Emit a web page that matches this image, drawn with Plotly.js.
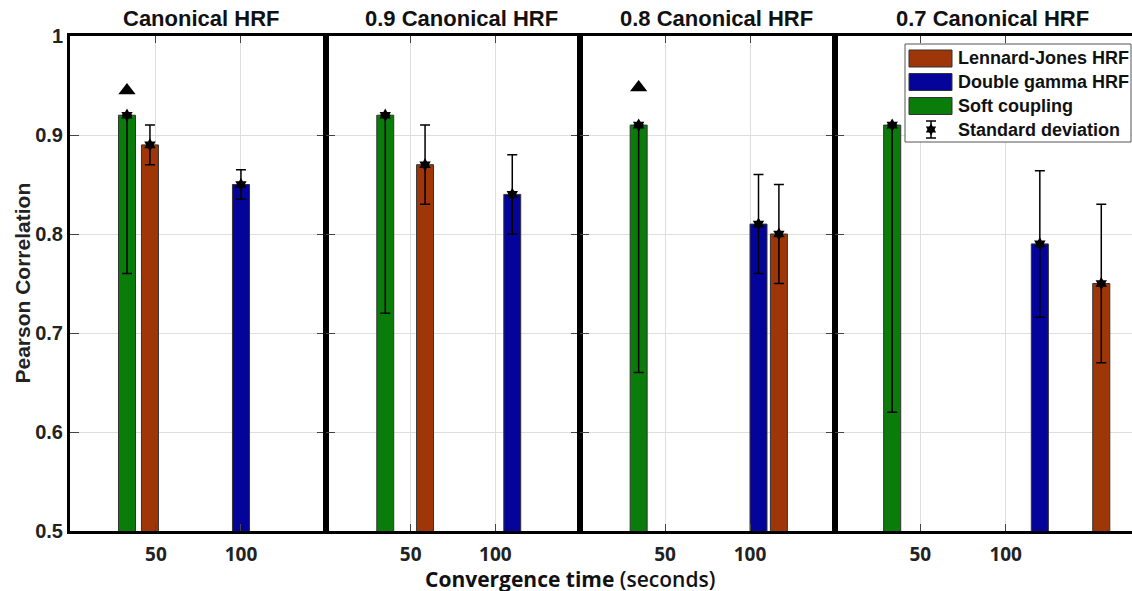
<!DOCTYPE html>
<html>
<head>
<meta charset="utf-8">
<script src="https://cdn.plot.ly/plotly-3.0.1.min.js"></script>
<style>html,body{margin:0;padding:0;background:#fff;}#chart{width:1132px;height:591px;}</style>
</head>
<body>
<div id="chart"></div>
<script>
// ---- data ----
const panelTitles = ['Canonical HRF', '0.9 Canonical HRF', '0.8 Canonical HRF', '0.7 Canonical HRF'];
const xTickVals = [50, 100];
const xTickText = ['50', '100'];
const yTickVals = [0.5, 0.6, 0.7, 0.8, 0.9, 1];
const yTickText = ['0.5', '0.6', '0.7', '0.8', '0.9', '1'];
const seriesNames = ['Lennard-Jones HRF', 'Double gamma HRF', 'Soft coupling', 'Standard deviation'];

// Soft coupling (green)
const softX = [33, 35, 34.5, 33.5];
const softY = [0.92, 0.92, 0.91, 0.91];
const softErrMinus = [0.16, 0.20, 0.25, 0.29];
const softErrPlus = [0, 0, 0, 0];
// Lennard-Jones HRF (brown)
const ljX = [46.5, 58.5, 117, 156];
const ljY = [0.89, 0.87, 0.80, 0.75];
const ljErr = [0.02, 0.04, 0.05, 0.08];
// Double gamma HRF (blue)
const dgX = [100, 110, 105, 120];
const dgY = [0.85, 0.84, 0.81, 0.79];
const dgErr = [0.015, 0.04, 0.05, 0.074];
// significance triangles
const triX = [33, null, 34.5, null];
const triY = [0.945, null, 0.948, null];

const xRanges = [[-0.5, 150], [0, 150], [0, 150], [0, 174]];

// ---- style ----
const colSoft = '#0a7c0a';
const colLJ = '#9e3607';
const colDG = '#04049a';
const barW = 10;

const L = 70, R = 0, T = 36, B = 60, W = 1132, H = 591;
const plotW = W - L - R;
const borders = [70, 326, 580, 835, 1132];
const titleCenters = [201, 461, 716, 992];
const domains = [];
for (let i = 0; i < 4; i++) domains.push([(borders[i] - L) / plotW, (borders[i + 1] - L) / plotW]);
function px(xp) { return (xp - L) / plotW; }
function py(yp) { return 1 - (yp - T) / (H - T - B); }

const traces = [];
const layout = {
  width: W, height: H,
  margin: {l: L, r: R, t: T, b: B, pad: 0},
  paper_bgcolor: '#fff', plot_bgcolor: '#fff',
  showlegend: false,
  barmode: 'overlay',
  annotations: [], shapes: []
};

function bar(i, x, y, color) {
  const s = i === 0 ? '' : String(i + 1);
  traces.push({type: 'bar', x: [x], y: [y], width: barW, xaxis: 'x' + s, yaxis: 'y' + s,
    marker: {color: color, line: {color: '#333', width: 1}}, hoverinfo: 'x+y'});
}
function err(i, x, y, plus, minus) {
  const s = i === 0 ? '' : String(i + 1);
  traces.push({type: 'scatter', mode: 'markers', x: [x], y: [y], xaxis: 'x' + s, yaxis: 'y' + s,
    marker: {symbol: 'hexagram', size: 10, color: '#000'},
    error_y: {type: 'data', symmetric: false, array: [plus], arrayminus: [minus], color: '#000', thickness: 1.5, width: 5}});
}

for (let i = 0; i < 4; i++) {
  const s = i === 0 ? '' : String(i + 1);
  bar(i, softX[i], softY[i], colSoft);
  bar(i, ljX[i], ljY[i], colLJ);
  bar(i, dgX[i], dgY[i], colDG);
  err(i, softX[i], softY[i], softErrPlus[i], softErrMinus[i]);
  err(i, ljX[i], ljY[i], ljErr[i], ljErr[i]);
  err(i, dgX[i], dgY[i], dgErr[i], dgErr[i]);
  if (triX[i] !== null) {
    traces.push({type: 'scatter', mode: 'markers', x: [triX[i]], y: [triY[i]], xaxis: 'x' + s, yaxis: 'y' + s,
      marker: {symbol: 'triangle-up', size: 15, color: '#000'}});
  }
  layout['xaxis' + s] = {
    domain: domains[i], range: xRanges[i], anchor: 'y' + s,
    tickvals: xTickVals, ticktext: xTickText,
    showgrid: true, gridcolor: '#dedede', gridwidth: 1, zeroline: false,
    ticks: 'inside', ticklen: 7, tickcolor: '#444', tickwidth: 1,
    showline: true, linewidth: 3, linecolor: '#000', mirror: 'ticks',
    tickfont: {family: 'Open Sans', size: 19, color: '#222', weight: 'bold'},
    ticklabelstandoff: 4
  };
  layout['yaxis' + s] = {
    domain: [0, 1], range: [0.5, 1], anchor: 'x' + s,
    tickvals: yTickVals, ticktext: yTickText,
    showticklabels: i === 0,
    showgrid: true, gridcolor: '#dedede', gridwidth: 1, zeroline: false,
    ticks: 'inside', ticklen: 9, tickcolor: '#444', tickwidth: 1,
    showline: true, linewidth: 3, linecolor: '#000', mirror: i === 3 ? false : 'ticks',
    tickfont: {family: 'Liberation Sans', size: 20, color: '#222', weight: 'bold'}
  };
  layout.annotations.push({
    xref: 'paper', yref: 'paper', x: px(titleCenters[i]), y: 1, xanchor: 'center',
    yanchor: 'bottom', yshift: 3, showarrow: false, text: panelTitles[i],
    font: {family: 'Liberation Sans', size: 22, color: '#111', weight: 'bold'}
  });
}

// axis titles
layout.annotations.push({
  xref: 'paper', yref: 'paper', x: px(570), y: 0, yshift: -48, xanchor: 'center', yanchor: 'middle',
  showarrow: false, text: '<b>Convergence time</b> (seconds)',
  font: {family: 'Open Sans', size: 21, color: '#111', weight: 600}
});
layout.annotations.push({
  xref: 'paper', yref: 'paper', x: 0, xshift: -48, y: 0.5, textangle: -90, xanchor: 'center', yanchor: 'middle',
  showarrow: false, text: 'Pearson Correlation',
  font: {family: 'Liberation Sans', size: 21, color: '#222', weight: 'bold'}
});

// legend (manual)
layout.shapes.push({type: 'rect', xref: 'paper', yref: 'paper', x0: px(905), x1: px(1131), y0: py(142), y1: py(44),
  line: {color: '#555', width: 1}, fillcolor: '#fff', layer: 'above'});
const legColors = [colLJ, colDG, colSoft];
const rowY = [58.5, 82, 106, 129.5];
for (let k = 0; k < 3; k++) {
  layout.shapes.push({type: 'rect', xref: 'paper', yref: 'paper', x0: px(909), x1: px(952), y0: py(rowY[k] + 8.5), y1: py(rowY[k] - 8.5),
    line: {color: '#333', width: 1}, fillcolor: legColors[k], layer: 'above'});
}
layout.shapes.push({type: 'line', xref: 'paper', yref: 'paper', x0: px(931), x1: px(931), y0: py(138), y1: py(121), line: {color: '#000', width: 1.5}, layer: 'above'});
layout.shapes.push({type: 'line', xref: 'paper', yref: 'paper', x0: px(926), x1: px(936), y0: py(121), y1: py(121), line: {color: '#000', width: 1.5}, layer: 'above'});
layout.shapes.push({type: 'line', xref: 'paper', yref: 'paper', x0: px(926), x1: px(936), y0: py(138), y1: py(138), line: {color: '#000', width: 1.5}, layer: 'above'});
// hexagram glyph for legend (two triangles)
(function () {
  const cx = 931, cy = rowY[3], r = 6;
  function tri(rot) {
    let d = '';
    for (let k = 0; k < 3; k++) {
      const a = rot + k * 2 * Math.PI / 3;
      const xx = px(cx + r * Math.sin(a)), yy = py(cy - r * Math.cos(a));
      d += (k === 0 ? 'M' : 'L') + xx + ',' + yy;
    }
    return d + 'Z';
  }
  layout.shapes.push({type: 'path', xref: 'paper', yref: 'paper', path: tri(0), fillcolor: '#000', line: {width: 0}, layer: 'above'});
  layout.shapes.push({type: 'path', xref: 'paper', yref: 'paper', path: tri(Math.PI), fillcolor: '#000', line: {width: 0}, layer: 'above'});
})();
for (let k = 0; k < 4; k++) {
  layout.annotations.push({xref: 'paper', yref: 'paper', x: px(956), y: py(rowY[k]), xanchor: 'left', yanchor: 'middle',
    showarrow: false, text: seriesNames[k], font: {family: 'Liberation Sans', size: 18, color: '#111', weight: 'bold'}});
}

Plotly.newPlot('chart', traces, layout, {displayModeBar: false, staticPlot: true});
</script>
</body>
</html>
